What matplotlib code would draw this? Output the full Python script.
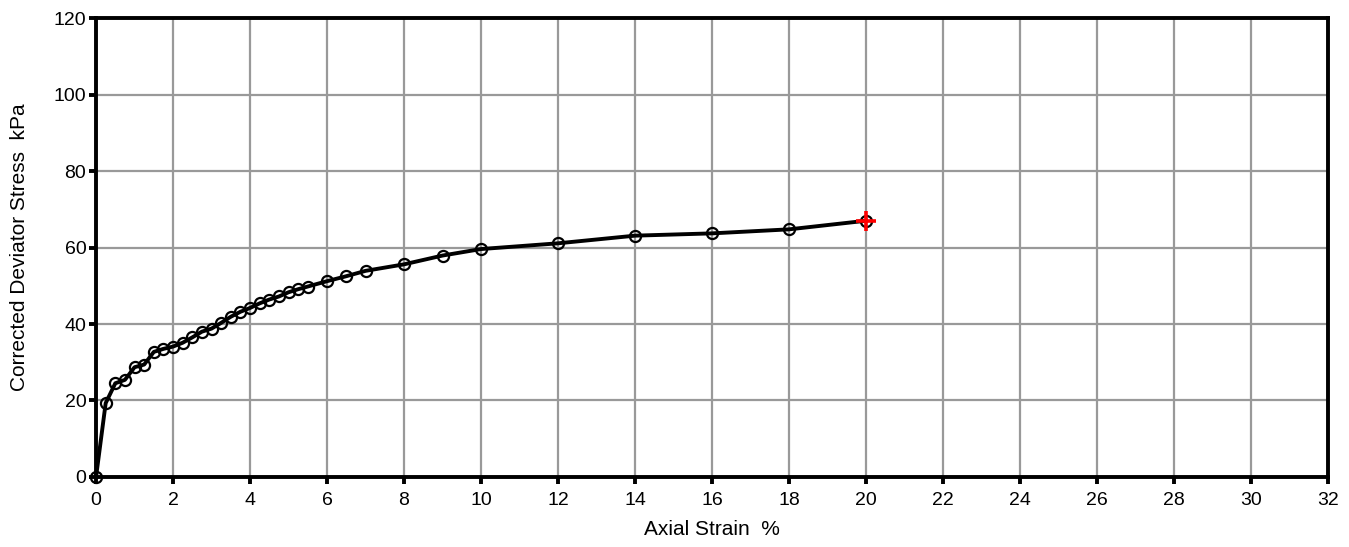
import numpy as np
import matplotlib.pyplot as plt

plt.rcParams['font.family'] = ['Liberation Sans', 'DejaVu Sans']

# Осевая деформация, % и исправленное девиаторное напряжение, кПа
strain = [0, 0.25, 0.5, 0.75, 1.0, 1.25, 1.5, 1.75, 2.0, 2.25, 2.5, 2.75,
          3.0, 3.25, 3.5, 3.75, 4.0, 4.25, 4.5, 4.75, 5.0, 5.25, 5.5,
          6, 6.5, 7, 8, 9, 10, 12, 14, 16, 18, 20]
stress = [0, 19.3, 24.5, 25.4, 28.7, 29.4, 32.7, 33.5, 34.1, 35.1, 36.5, 38.0,
          38.8, 40.3, 41.9, 43.2, 44.2, 45.4, 46.4, 47.2, 48.3, 49.1, 49.8,
          51.2, 52.5, 53.9, 55.6, 57.9, 59.6, 61.1, 63.1, 63.7, 64.75, 67.0]
fail_strain = [20]
fail_stress = [67.0]

xticks = np.arange(0, 33, 2)
yticks = np.arange(0, 121, 20)

fig = plt.figure(figsize=(13.49, 5.47), dpi=100)
ax = fig.add_axes([0.0712, 0.128, 0.9132, 0.839])

ax.plot(strain, stress, '-', color='black', lw=2.8, zorder=3, clip_on=False)
ax.plot(strain, stress, 'o', mfc='none', mec='black', ms=8, mew=1.6,
        zorder=4, clip_on=False)
ax.plot(fail_strain, fail_stress, '+', color='red', ms=14, mew=2.6, zorder=5)

ax.set_xlim(0, 32)
ax.set_ylim(0, 120)
ax.set_xticks(xticks)
ax.set_yticks(yticks)
ax.grid(True, color='#999999', lw=1.6)
ax.set_axisbelow(True)
for s in ax.spines.values():
    s.set_linewidth(2.8)
    s.set_zorder(6)
ax.tick_params(direction='out', length=5, width=2.8, labelsize=14)
ax.tick_params(axis='x', pad=6)
ax.tick_params(axis='y', pad=2)
ax.set_xlabel('Axial Strain  %', fontsize=15, labelpad=8)
ax.set_ylabel('Corrected Deviator Stress  kPa', fontsize=15, labelpad=18)

fig.savefig('out.png', dpi=100)
